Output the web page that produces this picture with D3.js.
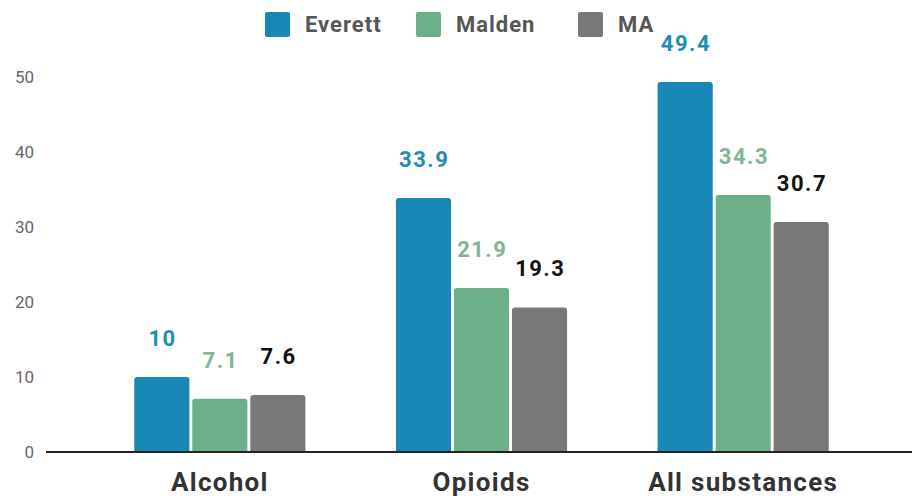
<!DOCTYPE html>
<html><head><meta charset="utf-8">
<script src="https://cdn.jsdelivr.net/npm/d3@7"></script>
<style>body{margin:0;background:#fff;}svg{display:block;font-family:Roboto,"Noto Sans",sans-serif;}</style>
</head><body><svg id="c" width="912" height="499"></svg>
<script>
const categories = ["Alcohol", "Opioids", "All substances"];
const seriesNames = ["Everett", "Malden", "MA"];
const everett = [10, 33.9, 49.4];
const malden = [7.1, 21.9, 34.3];
const ma = [7.6, 19.3, 30.7];
const yTicks = [0, 10, 20, 30, 40, 50];
const valueLabels = [["10", "33.9", "49.4"], ["7.1", "21.9", "34.3"], ["7.6", "19.3", "30.7"]];

const seriesValues = [everett, malden, ma];
const barColors = ["#1787b6", "#6caf88", "#787878"];
const labelColors = ["#1f8db5", "#82b593", "#111111"];

const svg = d3.select("#c");
const y = d3.scaleLinear().domain([0, 50]).range([452, 77.5]);
const x0 = d3.scaleBand().domain(categories).range([89, 874]).paddingInner(0.346).paddingOuter(0.173);
const x1 = d3.scaleBand().domain(seriesNames).range([0, x0.bandwidth()]).paddingInner(0.05);

// y axis labels
const yAxis = d3.axisLeft(y).tickValues(yTicks).tickSize(0).tickPadding(0).tickFormat(d3.format("d"));
const ya = svg.append("g").attr("transform", "translate(34,0)").call(yAxis);
ya.select(".domain").remove();
ya.selectAll("text").attr("font-size", 17).attr("fill", "#666").attr("font-family", "Roboto, sans-serif");

// bars
const data = [];
categories.forEach((c, ci) => seriesNames.forEach((s, si) => data.push({c, s, si, v: seriesValues[si][ci], lab: valueLabels[si][ci]})));
svg.append("g").selectAll("path").data(data).join("path")
  .attr("fill", d => barColors[d.si])
  .attr("d", d => {
    const bx = x0(d.c) + x1(d.s), bw = x1.bandwidth(), ty = y(d.v), by = y(0), r = 3;
    return `M${bx},${by}V${ty + r}Q${bx},${ty} ${bx + r},${ty}H${bx + bw - r}Q${bx + bw},${ty} ${bx + bw},${ty + r}V${by}Z`;
  });

// value labels
svg.append("g").selectAll("text").data(data).join("text")
  .attr("x", d => x0(d.c) + x1(d.s) + x1.bandwidth() / 2 + 0.75)
  .attr("y", d => y(d.v) - 31)
  .attr("text-anchor", "middle")
  .attr("font-size", 22).attr("font-weight", "bold")
  .attr("letter-spacing", 1.5)
  .attr("fill", d => labelColors[d.si])
  .text(d => d.lab);

// x axis
const xAxis = d3.axisBottom(x0).tickSize(0).tickPadding(21);
const xa = svg.append("g").attr("transform", `translate(0,${y(0)})`).call(xAxis);
xa.select(".domain").remove();
xa.selectAll("text").attr("font-size", 26).attr("font-weight", "bold").attr("fill", "#333")
  .attr("letter-spacing", 1.3).attr("font-family", "Roboto, sans-serif");
svg.append("line").attr("x1", 46).attr("x2", 912).attr("y1", y(0)).attr("y2", y(0)).attr("stroke", "#222").attr("stroke-width", 2);

// legend
const legX = [265, 416, 578];
const leg = svg.append("g").selectAll("g").data(seriesNames).join("g")
  .attr("transform", (d, i) => `translate(${legX[i]},12)`);
leg.append("rect").attr("width", 25).attr("height", 25).attr("rx", 2).attr("fill", (d, i) => barColors[i]);
leg.append("text").attr("x", 40).attr("y", 20).attr("font-size", 22).attr("font-weight", "bold")
  .attr("letter-spacing", 1).attr("fill", "#555").text(d => d);
</script></body></html>
